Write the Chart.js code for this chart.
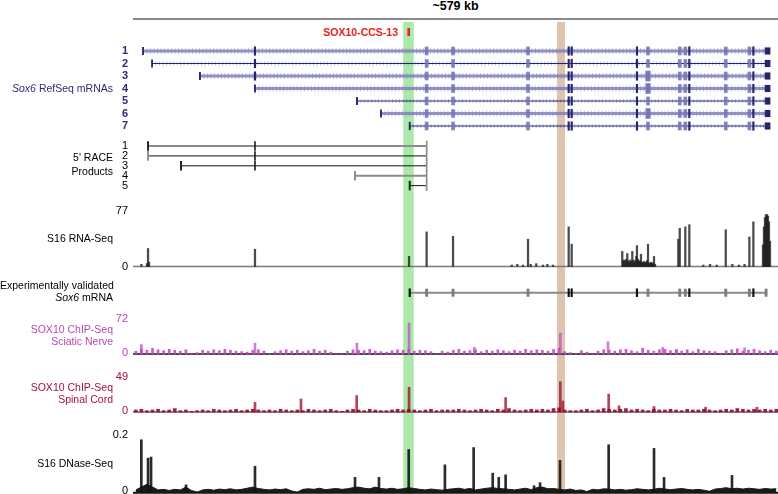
<!DOCTYPE html>
<html>
<head>
<meta charset="utf-8">
<script src="https://cdn.jsdelivr.net/npm/chart.js@4.4.1/dist/chart.umd.min.js"></script>
<style>
  body { margin: 0; width: 778px; height: 494px; overflow: hidden; background: #fff; position: relative;
         font-family: "Liberation Sans", Arial, Helvetica, sans-serif; }
  .trk { position: absolute; left: 0; width: 778px; }
  .lbl { position: absolute; left: 0; width: 113px; text-align: right; font-size: 10.5px; line-height: 12px; white-space: nowrap; }
  #title { position: absolute; left: 133px; width: 645px; top: -1px; text-align: center; font-weight: bold; font-size: 12.5px; }
  #scalebar { position: absolute; left: 133px; top: 18px; width: 645px; height: 2px; background: #8a8a8a; }
  #ccs { position: absolute; left: 250px; width: 148px; top: 26px; text-align: right; font-weight: bold; font-size: 10.5px; color: #e8251c; }
</style>
</head>
<body>
<div id="title">~579 kb</div>
<div id="scalebar"></div>
<div id="ccs">SOX10-CCS-13</div>

<div class="trk" style="top:22px;height:116px"><canvas id="genes"></canvas></div>
<div class="trk" style="top:138px;height:54px"><canvas id="race"></canvas></div>
<div class="trk" style="top:192px;height:84px"><canvas id="rna"></canvas></div>
<div class="trk" style="top:276px;height:29px"><canvas id="valid"></canvas></div>
<div class="trk" style="top:305px;height:55px"><canvas id="sciatic"></canvas></div>
<div class="trk" style="top:360px;height:60px"><canvas id="spinal"></canvas></div>
<div class="trk" style="top:420px;height:74px"><canvas id="dnase"></canvas></div>

<div class="lbl" style="top:82px;color:#2d2a7c"><i>Sox6</i> RefSeq mRNAs</div>
<div class="lbl" style="top:150px;line-height:14px">5' RACE<br>Products</div>
<div class="lbl" style="top:232px">S16 RNA-Seq</div>
<div class="lbl" style="top:280px;line-height:11.5px">Experimentally validated<br><i>Sox6</i> mRNA</div>
<div class="lbl" style="top:323px;color:#b648b8">SOX10 ChIP-Seq<br>Sciatic Nerve</div>
<div class="lbl" style="top:381px;color:#a3103c">SOX10 ChIP-Seq<br>Spinal Cord</div>
<div class="lbl" style="top:457px">S16 DNase-Seq</div>

<script>
// ---- data (positions in kb from the left edge of the ~579 kb window) ----
const SPAN_KB = 579;
const highlightKb = [[242.6, 252.0], [380.6, 387.8]];
const ccsKb = 247.5;

const mrnaNames = ['1', '2', '3', '4', '5', '6', '7'];
const mrnaStartKb = [9.0, 17.1, 60.1, 109.5, 201.1, 222.6, 248.4];
const exonKb = [109.5, 263.6, 287.3, 354.6, 391.1, 393.8, 452.4, 462.3, 490.8, 495.8, 499.4, 532.1, 553.3, 556.9];
const lastExonKb = [568.3, 571.0];
const wideExonKb = 462.3;

const raceNames = ['1', '2', '3', '4', '5'];
const raceStartKb = [13.5, 13.5, 43.1, 199.3, 248.4];
const raceJunctionKb = 109.5;
const raceEndKb = 263.6;

const validatedStartKb = 248.4;

// signal peaks: [kb, value]
const rnaPeaks = [[7.5, 3], [12.6, 4], [13.5, 25], [14.4, 6], [109.5, 24], [247.8, 14], [263.6, 48], [287.3, 42],
  [340, 2], [345, 3], [350, 2], [354.6, 38], [357, 3], [362, 4], [368, 2], [372, 3], [377, 2],
  [391.1, 55], [393.8, 31],
  [439.2, 21], [440.1, 8], [441, 9], [441.9, 7], [442.8, 10], [443.7, 18], [444.6, 8], [445.5, 6], [446.4, 9],
  [447.3, 7], [448.2, 21], [449.1, 9], [450, 6], [450.9, 8], [451.8, 14], [452.4, 29], [453.3, 10], [454.2, 7],
  [455.1, 8], [456, 17], [456.9, 6], [457.8, 5], [458.7, 7], [459.6, 5], [460.5, 6], [461.4, 8], [462.3, 31],
  [463.2, 5], [464.1, 4], [465, 6], [465.9, 4], [466.8, 5], [467.7, 14], [468.6, 3],
  [489.5, 38], [490.8, 53], [495.8, 55], [499.4, 58], [512, 2], [518, 3], [524, 2], [532.1, 51], [538, 3],
  [544, 2], [549, 3], [553.3, 41], [556.9, 62],
  [565.5, 30], [566.4, 55], [567.3, 68], [568.2, 72], [569.1, 72], [570, 70], [570.9, 62], [571.8, 35]];

const sciaticPeaks = [[7.5, 20], [109.5, 23], [201, 23], [247.8, 66], [306.4, 14], [383.6, 44], [426.4, 26],
  [475.5, 14], [488, 10], [549, 13]];
const spinalPeaks = [[109.5, 14], [150.8, 19], [200.8, 24], [247.8, 36], [334.5, 21], [383.6, 44], [385.9, 16],
  [427, 26], [436.3, 9], [467.7, 8], [514, 7], [560, 7]];
const dnasePeaks = [[7.5, 0.19], [13.5, 0.124], [16.2, 0.128], [47.6, 0.028], [109.5, 0.095], [199.3, 0.055],
  [220.8, 0.055], [247.5, 0.155], [280, 0.1], [305.8, 0.162], [322.9, 0.07], [328.3, 0.055], [334.5, 0.064],
  [360, 0.025], [365.4, 0.036], [383.3, 0.116], [427, 0.172], [467.7, 0.159], [476.7, 0.055], [537.7, 0.062]];

// background signal in 5 kb bins
const BIN_KB = 5;
const sciaticBg = [6, 10, 8, 12, 9, 7, 10, 8, 6, 9, 0, 3, 8, 6, 9, 7, 10, 8, 6, 5, 4, 8, 9, 6, 0, 5,
  7, 9, 6, 8, 5, 7, 10, 6, 8, 4, 0, 0, 6, 9, 8, 7, 10, 6, 5, 4, 7, 9, 8, 10, 6, 8, 7, 5, 0, 6, 4,
  8, 10, 6, 7, 9, 5, 8, 6, 9, 7, 5, 8, 6, 10, 7, 9, 8, 6, 10, 12, 5, 3, 0, 7, 4, 0, 6, 9, 8,
  6, 9, 10, 7, 5, 12, 8, 6, 9, 10, 7, 8, 6, 9, 5, 10, 7, 6, 5, 0, 7, 9, 11, 6, 8, 10, 7, 5, 8, 6];
const spinalBg = [3, 4, 2, 3, 4, 2, 3, 5, 2, 3, 1, 2, 3, 2, 4, 3, 2, 3, 4, 2, 3, 4, 3, 2, 3, 2,
  4, 3, 2, 3, 2, 4, 3, 2, 3, 4, 2, 1, 3, 4, 3, 2, 4, 3, 2, 2, 3, 4, 3, 4, 3, 2, 3, 4, 2, 3, 3,
  3, 4, 3, 2, 3, 4, 3, 2, 4, 3, 5, 3, 2, 3, 4, 3, 4, 3, 5, 6, 3, 2, 2, 3, 4, 2, 3, 5, 4,
  3, 4, 5, 3, 4, 3, 2, 4, 3, 3, 4, 3, 2, 4, 3, 3, 4, 3, 2, 3, 4, 3, 5, 4, 3, 4, 3, 4, 3, 4];
const dnaseBg = [0.01, 0.02, 0.03, 0.02, 0.01, 0.012, 0.008, 0.012, 0.01, 0.02, 0.008, 0.002,
  0.01, 0.012, 0.009, 0.013, 0.011, 0.014, 0.01, 0.012, 0.016, 0.02, 0.015, 0.012, 0.01, 0.013, 0.011, 0.014, 0.006,
  0.002, 0.012, 0.014, 0.012, 0.016, 0.011, 0.013, 0.015, 0.012, 0.014, 0.018, 0.02,
  0.016, 0.014, 0.02, 0.015, 0.013, 0.016, 0.012, 0.014, 0.018, 0.015, 0.012, 0.01, 0.013, 0.011, 0.009, 0.012,
  0.014, 0.016, 0.012, 0.015, 0.01, 0.013, 0.016, 0.018, 0.015, 0.014, 0.012, 0.01, 0.013, 0.016, 0.011, 0.018,
  0.02, 0.014, 0.015, 0.012, 0.01, 0.013, 0.008, 0.01, 0.004, 0.012, 0.01,
  0.014, 0.013, 0.01, 0.012, 0.009, 0.011, 0.014, 0.012, 0.01, 0.012, 0.016, 0.013, 0.011, 0.013, 0.015, 0.012, 0.01,
  0.012, 0.009, 0.005, 0.013, 0.015, 0.018, 0.014, 0.016, 0.013, 0.016, 0.014, 0.012, 0.015, 0.013, 0.014];

// ---- styles ----
const FONT = '"Liberation Sans", Arial, Helvetica, sans-serif';
Chart.defaults.font.family = FONT;
const NAVY = '#25246f';
const bandColors = ['rgb(172,232,170)', 'rgb(222,196,174)'];
const lightRows = [1, 3, 4, 6];
const wideExonRows = [3, 4, 6];
const darkExons = [109.5, 391.1, 393.8, 452.4, 499.4, 556.9];
const greyRaceRows = [1, 4];

const bandPlugin = {
  id: 'bands',
  beforeDatasetsDraw(chart) {
    const { ctx, chartArea: a, scales: { x } } = chart;
    ctx.save();
    highlightKb.forEach((h, i) => {
      const l = x.getPixelForValue(h[0]), r = x.getPixelForValue(h[1]);
      ctx.fillStyle = bandColors[i];
      ctx.fillRect(l, a.top, r - l, a.bottom - a.top);
    });
    ctx.restore();
  }
};

const seg = (a, b, y) => [{ x: a, y: y }, { x: b, y: y }];
const bins = vals => vals.map((v, i) => [(i + 0.5) * BIN_KB, v]);

function lineDs(data, color, width, dash) {
  return { type: 'line', data: data, borderColor: color, borderWidth: width, borderDash: dash || [],
    pointRadius: 0, fill: false, order: 3 };
}
function areaDs(pairs, color) {
  return { type: 'line', data: pairs.map(p => ({ x: p[0], y: p[1] })), borderColor: color, backgroundColor: color,
    borderWidth: 1, pointRadius: 0, fill: 'origin', tension: 0, order: 2 };
}
function tickDs(xs, y0, y1, color, thick) {
  return { type: 'bar', data: xs.map(x => ({ x: x, y: [y0, y1] })), backgroundColor: color,
    barThickness: thick, grouped: false, order: 1 };
}
function signalDs(pairs, color, thick) {
  return { type: 'bar', data: pairs.map(p => ({ x: p[0], y: p[1] })), backgroundColor: color,
    barThickness: thick, grouped: false, order: 1 };
}

function makeChart(id, datasets, y) {
  const tickVals = y.ticksAt || [];
  return new Chart(document.getElementById(id), {
    type: 'bar',
    data: { datasets: datasets },
    options: {
      responsive: true,
      maintainAspectRatio: false,
      animation: false,
      layout: { padding: 0 },
      plugins: { legend: { display: false }, tooltip: { enabled: false } },
      scales: {
        x: { type: 'linear', min: 0, max: SPAN_KB, offset: false, display: false },
        y: {
          type: 'linear', min: y.min, max: y.max, reverse: !!y.reverse,
          grid: { display: false, drawTicks: false },
          border: { display: false },
          ticks: {
            autoSkip: false, padding: 5, color: y.color || '#000', labelOffset: y.offset || 0,
            font: { size: 11, weight: y.bold ? 'bold' : 'normal' },
            callback: y.label || (v => v)
          },
          afterBuildTicks: s => { s.ticks = tickVals.map(v => ({ value: v })); },
          afterFit: s => { s.width = 133; s.paddingTop = 0; s.paddingBottom = 0; }
        }
      }
    },
    plugins: [bandPlugin]
  });
}

// RefSeq mRNAs
const geneSets = [tickDs([ccsKb], -0.82, -0.22, '#e8251c', 2)];
mrnaStartKb.forEach((s, i) => {
  const r = i + 1, light = lightRows.includes(r);
  const ex = exonKb.filter(e => e > s);
  const end = lastExonKb[0];
  geneSets.push(lineDs(seg(s, end, r), light ? 'rgba(128,128,188,0.85)' : NAVY, light ? 3 : 1.2));
  geneSets.push(lineDs(seg(s, end, r), light ? 'rgba(150,150,205,0.55)' : 'rgba(110,110,180,0.45)', light ? 6 : 4, [1, 2.5]));
  geneSets.push(tickDs([s], r - 0.3, r + 0.3, NAVY, 1.2));
  geneSets.push(tickDs(ex.filter(e => !darkExons.includes(e)), r - 0.32, r + 0.32, 'rgba(118,118,182,0.9)', 3));
  if (wideExonRows.includes(r)) geneSets.push(tickDs([wideExonKb], r - 0.4, r + 0.4, 'rgba(118,118,182,0.9)', 4.5));
  geneSets.push(tickDs(ex.filter(e => darkExons.includes(e)), r - 0.34, r + 0.34, NAVY, 1.5));
  geneSets.push(tickDs([(lastExonKb[0] + lastExonKb[1]) / 2], r - 0.26, r + 0.26, NAVY, 5));
});
makeChart('genes', geneSets, { min: -1.32, max: 7.96, reverse: true, ticksAt: [1, 2, 3, 4, 5, 6, 7],
  label: v => mrnaNames[v - 1], color: '#2d2a7c', bold: true });

// 5' RACE products
const raceSets = [];
raceStartKb.forEach((s, i) => {
  const r = i + 1, grey = greyRaceRows.includes(r);
  raceSets.push(lineDs(seg(s, raceEndKb, r), grey ? '#8c8c8c' : '#111', grey ? 2 : 1));
  raceSets.push(tickDs([s], r - 0.45, r + 0.45, (r % 2) ? '#222' : '#8c8c8c', 1.3));
  if (s < raceJunctionKb) raceSets.push(tickDs([raceJunctionKb], r - 0.45, r + 0.45, '#222', 1));
  raceSets.push(tickDs([raceEndKb], r - 0.5, r + 0.5, '#8c8c8c', 1));
});
makeChart('race', raceSets, { min: 0.19, max: 5.645, reverse: true, ticksAt: [1, 2, 3, 4, 5],
  label: v => raceNames[v - 1] });

// S16 RNA-Seq
makeChart('rna', [
  lineDs(seg(0, SPAN_KB, 0), '#7a7a7a', 1.5),
  signalDs(rnaPeaks, 'rgba(30,30,30,0.8)', 1.6)
], { min: -13.2, max: 103.4, ticksAt: [0, 77] });

// experimentally validated mRNA
const validExons = exonKb.filter(e => e > validatedStartKb).concat([lastExonKb[0]]);
makeChart('valid', [
  lineDs(seg(validatedStartKb, lastExonKb[0], 0), '#8a8a8a', 2),
  tickDs([validatedStartKb], -0.32, 0.32, '#111', 1.5),
  tickDs(validExons.filter(e => !darkExons.includes(e)), -0.3, 0.3, '#7d7d7d', 2.2),
  tickDs(validExons.filter(e => darkExons.includes(e)), -0.32, 0.32, '#111', 1.5)
], { min: -1, max: 1.358 });

// SOX10 ChIP-Seq, sciatic nerve
makeChart('sciatic', [
  lineDs(seg(0, SPAN_KB, 0), '#111', 1.5),
  signalDs(bins(sciaticBg), 'rgba(196,72,200,0.9)', 2),
  signalDs(sciaticPeaks, 'rgba(190,80,200,0.75)', 2)
], { min: -12.7, max: 103.8, ticksAt: [0, 72], color: '#b648b8', offset: -1.5 });

// SOX10 ChIP-Seq, spinal cord
makeChart('spinal', [
  lineDs(seg(0, SPAN_KB, 0), '#8a8a8a', 2),
  signalDs(bins(spinalBg), 'rgba(150,10,45,0.9)', 3),
  signalDs(spinalPeaks, 'rgba(160,20,55,0.8)', 2)
], { min: -11.6, max: 75.6, ticksAt: [0, 49], color: '#a3103c', offset: -1.5 });

// S16 DNase-Seq
makeChart('dnase', [
  lineDs(seg(0, SPAN_KB, 0), '#111', 2),
  areaDs(bins(dnaseBg), '#1a1a1a'),
  signalDs(dnasePeaks, 'rgba(20,20,20,0.9)', 2)
], { min: -0.0047, max: 0.261, ticksAt: [0, 0.2], offset: -2 });
</script>
</body>
</html>
